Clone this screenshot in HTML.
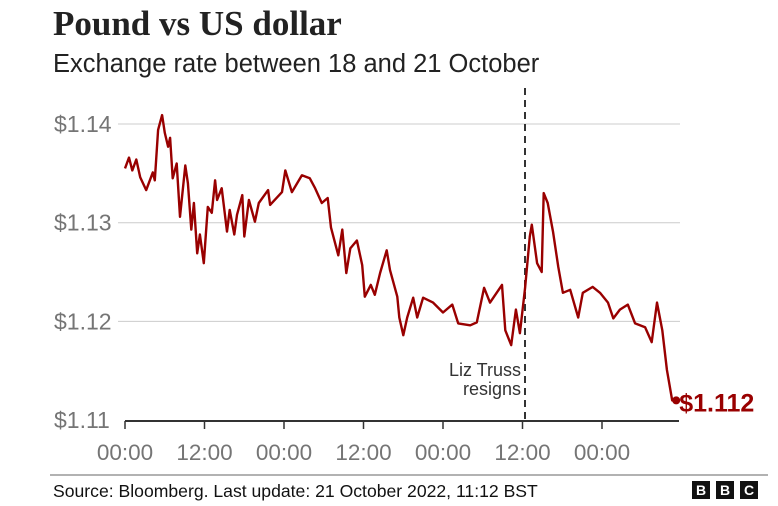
<!DOCTYPE html>
<html><head><meta charset="utf-8"><style>
body{margin:0;background:#fff;width:778px;height:506px;overflow:hidden;}
svg{display:block;}
</style></head><body>
<svg id="chart" width="778" height="506" xmlns="http://www.w3.org/2000/svg">
<text x="53" y="35" font-family="Liberation Serif, serif" font-weight="bold" font-size="35" fill="#222">Pound vs US dollar</text>
<text x="53" y="72" font-family="Liberation Sans, sans-serif" font-size="25.5" fill="#222">Exchange rate between 18 and 21 October</text>
<g id="grid"></g>
<g id="xaxis"></g>
<line x1="525" y1="88" x2="525" y2="421" stroke="#333" stroke-width="2" stroke-dasharray="7,5"/>
<rect x="436" y="356" width="86" height="44" fill="#fff"/>
<text x="521" y="376" text-anchor="end" font-family="Liberation Sans, sans-serif" font-size="18" fill="#333">Liz Truss</text>
<text x="521" y="395" text-anchor="end" font-family="Liberation Sans, sans-serif" font-size="18" fill="#333">resigns</text>
<path id="line" fill="none" stroke="#990000" stroke-width="2.4" stroke-linejoin="round"/>
<circle id="endDot" r="4" fill="#990000"/>
<text id="endLabel" font-family="Liberation Sans, sans-serif" font-weight="bold" font-size="25" fill="#990000"></text>
<line x1="50" y1="475" x2="768" y2="475" stroke="#666" stroke-width="1"/>
<text x="53" y="497" font-family="Liberation Sans, sans-serif" font-size="17.6" fill="#111">Source: Bloomberg. Last update: 21 October 2022, 11:12 BST</text>
<g font-family="Liberation Sans, sans-serif" font-weight="bold" font-size="14" fill="#fff" text-anchor="middle">
<rect x="692" y="481" width="18" height="18" fill="#111"/><text x="701" y="495">B</text>
<rect x="716" y="481" width="18" height="18" fill="#111"/><text x="725" y="495">B</text>
<rect x="740" y="481" width="18" height="18" fill="#111"/><text x="749" y="495">C</text>
</g>
</svg>
<script>
const yTicks=[1.14,1.13,1.12,1.11];
const yTickLabels=["$1.14","$1.13","$1.12","$1.11"];
const xTicks=[0,12,24,36,48,60,72];
const xTickLabels=["00:00","12:00","00:00","12:00","00:00","12:00","00:00"];
const hours=[0,0.6,1.1,1.7,2.3,3.2,4.2,4.5,5.0,5.6,6.0,6.5,6.8,7.2,7.8,8.3,9.1,9.5,10.0,10.4,10.9,11.3,11.9,12.5,13.1,13.6,13.9,14.6,15.4,15.8,16.5,16.9,17.7,18.0,18.7,19.6,20.2,21.6,21.9,23.7,24.2,25.2,26.7,27.9,28.7,29.7,30.6,31.1,32.2,32.8,33.4,34.0,35.0,35.8,36.2,37.1,37.7,38.5,39.5,40.0,41.1,41.4,42.0,42.6,43.5,44.1,45.0,46.5,48.0,49.4,50.3,52.1,53.1,54.2,55.1,56.9,57.4,58.3,59.0,59.6,60.4,61.1,61.4,62.2,62.9,63.2,63.8,64.6,65.4,66.1,67.2,68.4,69.1,70.6,71.7,72.9,73.7,74.7,75.9,77.0,78.5,79.5,80.3,81.1,81.8,82.6,83.2];
const rates=[1.1355,1.1366,1.1353,1.1364,1.1346,1.1333,1.1351,1.1343,1.1394,1.1409,1.1391,1.1377,1.1386,1.1345,1.1360,1.1306,1.1358,1.1340,1.1293,1.1320,1.1269,1.1288,1.1259,1.1316,1.1310,1.1343,1.1323,1.1335,1.1291,1.1313,1.1288,1.1308,1.1328,1.1286,1.1323,1.1301,1.1320,1.1333,1.1318,1.1331,1.1353,1.1331,1.1348,1.1345,1.1335,1.1320,1.1325,1.1295,1.1267,1.1293,1.1249,1.1274,1.1282,1.1257,1.1225,1.1237,1.1227,1.1249,1.1272,1.1252,1.1225,1.1204,1.1186,1.1204,1.1224,1.1204,1.1224,1.1219,1.1209,1.1217,1.1198,1.1196,1.1199,1.1234,1.1219,1.1237,1.1191,1.1176,1.1212,1.1188,1.1234,1.1286,1.1298,1.1259,1.1250,1.1330,1.1320,1.1291,1.1255,1.1229,1.1232,1.1204,1.1229,1.1235,1.1229,1.1219,1.1203,1.1212,1.1217,1.1198,1.1194,1.1179,1.1219,1.1191,1.1151,1.1120,1.1120];
const lastLabel="$1.112";
const NS="http://www.w3.org/2000/svg";
function xScale(h){return 125+h*(79.5/12);}
function yScale(v){return 124+(1.14-v)*9870;}
const grid=document.getElementById('grid');
yTicks.forEach((t,i)=>{
  const y=yScale(t);
  if(i<yTicks.length-1){
    const l=document.createElementNS(NS,'line');
    l.setAttribute('x1',118);l.setAttribute('x2',680);l.setAttribute('y1',y);l.setAttribute('y2',y);
    l.setAttribute('stroke','#ccc');l.setAttribute('stroke-width','1');
    
    
    grid.appendChild(l);
  }
  const tx=document.createElementNS(NS,'text');
  tx.setAttribute('x',54);tx.setAttribute('y',y+8);
  tx.setAttribute('font-family','Liberation Sans, sans-serif');tx.setAttribute('font-size','23');tx.setAttribute('fill','#757575');
  tx.textContent=yTickLabels[i];
  
  
  grid.appendChild(tx);
});
const xa=document.getElementById('xaxis');
const base=document.createElementNS(NS,'line');
base.setAttribute('x1',125);base.setAttribute('x2',679);base.setAttribute('y1',421);base.setAttribute('y2',421);
base.setAttribute('stroke','#333');base.setAttribute('stroke-width','2');


xa.appendChild(base);
xTicks.forEach((h,i)=>{
  const x=xScale(h);
  const t=document.createElementNS(NS,'line');
  t.setAttribute('x1',x);t.setAttribute('x2',x);t.setAttribute('y1',421);t.setAttribute('y2',429);
  t.setAttribute('stroke','#333');t.setAttribute('stroke-width','1.5');
  
  
  xa.appendChild(t);
  const tx=document.createElementNS(NS,'text');
  tx.setAttribute('x',x);tx.setAttribute('y',460);tx.setAttribute('text-anchor','middle');
  tx.setAttribute('font-family','Liberation Sans, sans-serif');tx.setAttribute('font-size','22.5');tx.setAttribute('fill','#757575');
  tx.textContent=xTickLabels[i];
  
  
  xa.appendChild(tx);
});
let d='';
hours.forEach((h,i)=>{d+=(i?'L':'M')+xScale(h).toFixed(1)+','+yScale(rates[i]).toFixed(1);});
document.getElementById('line').setAttribute('d',d);
const lx=xScale(hours[hours.length-1]),ly=yScale(rates[rates.length-1]);
const dot=document.getElementById('endDot');dot.setAttribute('cx',lx);dot.setAttribute('cy',ly);
const el=document.getElementById('endLabel');el.setAttribute('x',lx+3);el.setAttribute('y',ly+11);el.textContent=lastLabel;
</script>
</body></html>
